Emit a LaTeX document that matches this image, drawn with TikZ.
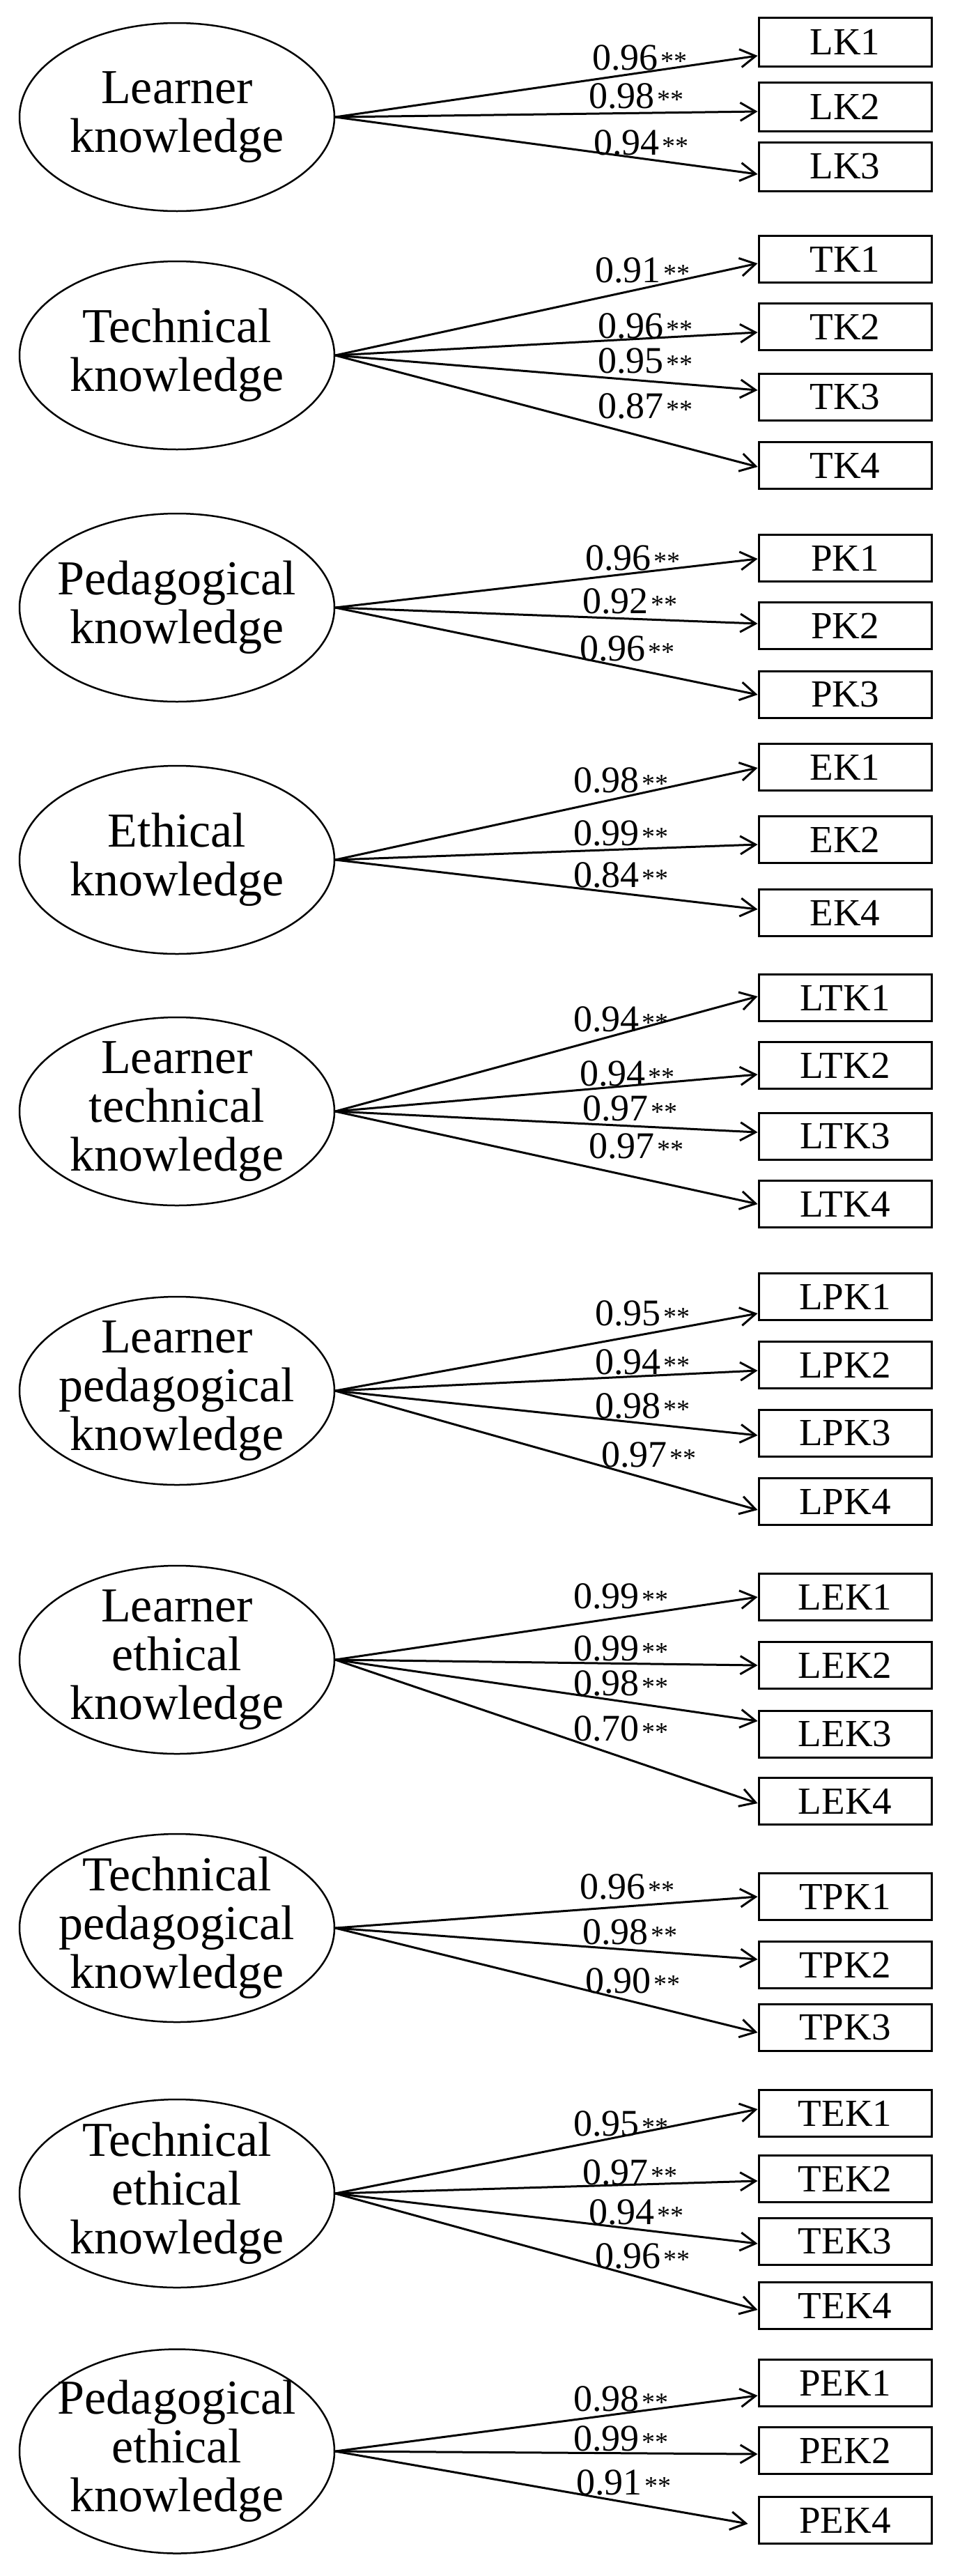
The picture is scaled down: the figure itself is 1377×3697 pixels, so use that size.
\documentclass[tikz,border=0pt]{standalone}
\usepackage{fontspec}
\setmainfont{Liberation Serif}
\usetikzlibrary{shapes.geometric,arrows.meta,calc}
\newcommand\coefl[1]{{\fontsize{54}{60}\selectfont #1}\hspace{4pt}{\fontsize{38}{44}\selectfont **}}
\tikzset{
  latent/.style={draw, ellipse, line width=2.5pt, minimum width=452pt, minimum height=270pt, inner sep=0pt},
  lattext/.style={align=center, font=\fontsize{70}{70}\selectfont, inner sep=0pt},
  obs/.style={draw, rectangle, line width=3pt, minimum width=248pt, minimum height=67pt, inner sep=0pt, font=\fontsize{55}{60}\selectfont},
  load/.style={-{Straight Barb[length=22pt,width=26pt]}, line width=3pt},
  coef/.style={anchor=base west, inner sep=0pt},
}
\begin{document}
\begin{tikzpicture}[x=1pt,y=-1pt]
\useasboundingbox (0,0) rectangle (1377,3697);

% Block 1
\node[latent] (E1) at (254,168) {};
\node[lattext] (T1) at (E1) {Learner\\knowledge};
\node[obs, minimum height=70pt] (LK1) at (1213,60) {LK1};
\node[obs, minimum height=70pt] (LK2) at (1213,153) {LK2};
\node[obs, minimum height=70pt] (LK3) at (1213,239) {LK3};
\draw[load] (E1.east) -- ($(LK1.west)+(0,20)$);
\draw[load] (E1.east) -- ($(LK2.west)+(0,7)$);
\draw[load] (E1.east) -- ($(LK3.west)+(0,11)$);
\node[coef] (c11) at (850,100) {\coefl{0.96}};
\node[coef] (c12) at (845,155) {\coefl{0.98}};
\node[coef] (c13) at (852,222) {\coefl{0.94}};

% Block 2
\node[latent] (E2) at (254,510) {};
\node[lattext] (T2) at (E2) {Technical\\knowledge};
\node[obs] (TK1) at (1213,372) {TK1};
\node[obs] (TK2) at (1213,469) {TK2};
\node[obs] (TK3) at (1213,570) {TK3};
\node[obs] (TK4) at (1213,668) {TK4};
\draw[load] (E2.east) -- ($(TK1.west)+(0,6)$);
\draw[load] (E2.east) -- ($(TK2.west)+(0,8)$);
\draw[load] (E2.east) -- ($(TK3.west)+(0,-10)$);
\draw[load] (E2.east) -- ($(TK4.west)+(0,2)$);
\node[coef] (c21) at (854,405) {\coefl{0.91}};
\node[coef] (c22) at (858,485) {\coefl{0.96}};
\node[coef] (c23) at (858,535) {\coefl{0.95}};
\node[coef] (c24) at (858,600) {\coefl{0.87}};

% Block 3
\node[latent] (E3) at (254,872) {};
\node[lattext] (T3) at (E3) {Pedagogical\\knowledge};
\node[obs] (PK1) at (1213,801) {PK1};
\node[obs] (PK2) at (1213,898) {PK2};
\node[obs] (PK3) at (1213,997) {PK3};
\draw[load] (E3.east) -- ($(PK1.west)+(0,1)$);
\draw[load] (E3.east) -- ($(PK2.west)+(0,-3)$);
\draw[load] (E3.east) -- (PK3.west);
\node[coef] (c31) at (840,818) {\coefl{0.96}};
\node[coef] (c32) at (836,880) {\coefl{0.92}};
\node[coef] (c33) at (832,948) {\coefl{0.96}};

% Block 4
\node[latent] (E4) at (254,1234) {};
\node[lattext] (T4) at (E4) {Ethical\\knowledge};
\node[obs] (EK1) at (1213,1101) {EK1};
\node[obs] (EK2) at (1213,1205) {EK2};
\node[obs] (EK4) at (1213,1310) {EK4};
\draw[load] (E4.east) -- ($(EK1.west)+(0,1)$);
\draw[load] (E4.east) -- ($(EK2.west)+(0,7)$);
\draw[load] (E4.east) -- ($(EK4.west)+(0,-5)$);
\node[coef] (c41) at (823,1137) {\coefl{0.98}};
\node[coef] (c42) at (823,1213) {\coefl{0.99}};
\node[coef] (c43) at (823,1273) {\coefl{0.84}};

% Block 5
\node[latent] (E5) at (254,1595) {};
\node[lattext] (T5) at (E5) {Learner\\technical\\knowledge};
\node[obs] (LTK1) at (1213,1432) {LTK1};
\node[obs] (LTK2) at (1213,1529) {LTK2};
\node[obs] (LTK3) at (1213,1631) {LTK3};
\node[obs] (LTK4) at (1213,1728) {LTK4};
\draw[load] (E5.east) -- ($(LTK1.west)+(0,-2)$);
\draw[load] (E5.east) -- ($(LTK2.west)+(0,13)$);
\draw[load] (E5.east) -- ($(LTK3.west)+(0,-6)$);
\draw[load] (E5.east) -- (LTK4.west);
\node[coef] (c51) at (823,1480) {\coefl{0.94}};
\node[coef] (c52) at (832,1558) {\coefl{0.94}};
\node[coef] (c53) at (836,1608) {\coefl{0.97}};
\node[coef] (c54) at (845,1662) {\coefl{0.97}};

% Block 6
\node[latent] (E6) at (254,1996) {};
\node[lattext] (T6) at (E6) {Learner\\pedagogical\\knowledge};
\node[obs] (LPK1) at (1213,1861) {LPK1};
\node[obs] (LPK2) at (1213,1959) {LPK2};
\node[obs] (LPK3) at (1213,2057) {LPK3};
\node[obs] (LPK4) at (1213,2155) {LPK4};
\draw[load] (E6.east) -- ($(LPK1.west)+(0,24)$);
\draw[load] (E6.east) -- ($(LPK2.west)+(0,8)$);
\draw[load] (E6.east) -- ($(LPK3.west)+(0,3)$);
\draw[load] (E6.east) -- ($(LPK4.west)+(0,12)$);
\node[coef] (c61) at (854,1902) {\coefl{0.95}};
\node[coef] (c62) at (854,1972) {\coefl{0.94}};
\node[coef] (c63) at (854,2035) {\coefl{0.98}};
\node[coef] (c64) at (863,2105) {\coefl{0.97}};

% Block 7
\node[latent] (E7) at (254,2382) {};
\node[lattext] (T7) at (E7) {Learner\\ethical\\knowledge};
\node[obs] (LEK1) at (1213,2292) {LEK1};
\node[obs] (LEK2) at (1213,2390) {LEK2};
\node[obs] (LEK3) at (1213,2489) {LEK3};
\node[obs] (LEK4) at (1213,2585) {LEK4};
\draw[load] (E7.east) -- (LEK1.west);
\draw[load] (E7.east) -- (LEK2.west);
\draw[load] (E7.east) -- ($(LEK3.west)+(0,-19)$);
\draw[load] (E7.east) -- ($(LEK4.west)+(0,3)$);
\node[coef] (c71) at (823,2308) {\coefl{0.99}};
\node[coef] (c72) at (823,2383) {\coefl{0.99}};
\node[coef] (c73) at (823,2433) {\coefl{0.98}};
\node[coef] (c74) at (823,2498) {\coefl{0.70}};

% Block 8
\node[latent] (E8) at (254,2767) {};
\node[lattext] (T8) at (E8) {Technical\\pedagogical\\knowledge};
\node[obs] (TPK1) at (1213,2722) {TPK1};
\node[obs] (TPK2) at (1213,2820) {TPK2};
\node[obs] (TPK3) at (1213,2910) {TPK3};
\draw[load] (E8.east) -- (TPK1.west);
\draw[load] (E8.east) -- ($(TPK2.west)+(0,-8)$);
\draw[load] (E8.east) -- ($(TPK3.west)+(0,7)$);
\node[coef] (c81) at (832,2725) {\coefl{0.96}};
\node[coef] (c82) at (836,2790) {\coefl{0.98}};
\node[coef] (c83) at (840,2860) {\coefl{0.90}};

% Block 9
\node[latent] (E9) at (254,3148) {};
\node[lattext] (T9) at (E9) {Technical\\ethical\\knowledge};
\node[obs] (TEK1) at (1213,3033) {TEK1};
\node[obs] (TEK2) at (1213,3127) {TEK2};
\node[obs] (TEK3) at (1213,3217) {TEK3};
\node[obs] (TEK4) at (1213,3309) {TEK4};
\draw[load] (E9.east) -- ($(TEK1.west)+(0,-6)$);
\draw[load] (E9.east) -- ($(TEK2.west)+(0,3)$);
\draw[load] (E9.east) -- ($(TEK3.west)+(0,3)$);
\draw[load] (E9.east) -- ($(TEK4.west)+(0,6)$);
\node[coef] (c91) at (823,3065) {\coefl{0.95}};
\node[coef] (c92) at (836,3135) {\coefl{0.97}};
\node[coef] (c93) at (845,3192) {\coefl{0.94}};
\node[coef] (c94) at (854,3255) {\coefl{0.96}};

% Block 10
\node[latent, minimum height=293pt] (E10) at (254,3518) {};
\node[lattext] (T10) at (E10) {Pedagogical\\ethical\\knowledge};
\node[obs] (PEK1) at (1213,3420) {PEK1};
\node[obs] (PEK2) at (1213,3517) {PEK2};
\node[obs] (PEK4) at (1213,3617) {PEK4};
\draw[load] (E10.east) -- ($(PEK1.west)+(0,18)$);
\draw[load] (E10.east) -- ($(PEK2.west)+(0,5)$);
\draw[load] (E10.east) -- ($(PEK4.west)+(-14,5)$);
\node[coef] (c101) at (823,3460) {\coefl{0.98}};
\node[coef] (c102) at (823,3517) {\coefl{0.99}};
\node[coef] (c103) at (827,3580) {\coefl{0.91}};
\end{tikzpicture}
\end{document}
